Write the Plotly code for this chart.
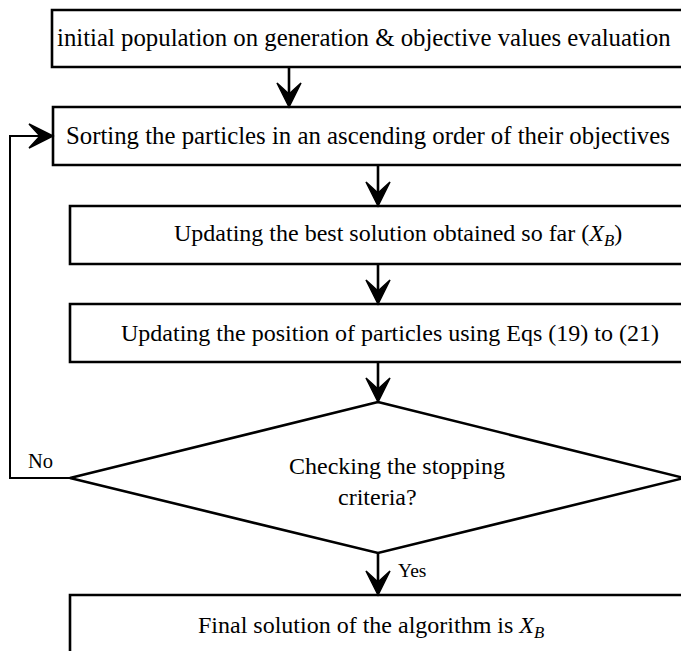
import plotly.graph_objects as go

# ---- content ----
box_labels = [
    "initial population on generation &amp; objective values evaluation",
    "Sorting the particles in an ascending order of their objectives",
    "Updating the best solution obtained so far (<i>X<sub>B</sub></i>)",
    "Updating the position of particles using Eqs (19) to (21)",
]
decision_lines = ["Checking the stopping", "criteria?"]
final_label = "Final solution of the algorithm is <i>X<sub>B</sub></i>"
no_label = "No"
yes_label = "Yes"

# ---- layout geometry (pixel space) ----
W, H = 681, 651
boxes = [  # x0, y0, x1, y1, text cx, text cy, font size
    (52, 10, 692, 67, 364, 37, 24.8),
    (53, 107, 692, 165, 368, 135, 24.8),
    (70, 206, 692, 264, 398, 235, 24),
    (70, 304, 692, 362, 390, 333, 24),
]
diamond = dict(top=(378, 402), left=(70, 478), right=(684, 478), bottom=(378, 553))
final_box = (70, 595, 692, 665, 371, 627)
LW = 2.6
FONT = "Liberation Serif"
FS = 24

fig = go.Figure()
fig.add_trace(go.Scatter(x=[0, W], y=[0, H], mode="markers",
                         marker=dict(opacity=0), hoverinfo="skip", showlegend=False))

shapes = []
annotations = []

def rect(x0, y0, x1, y1):
    shapes.append(dict(type="rect", xref="x", yref="y", x0=x0, y0=y0, x1=x1, y1=y1,
                       line=dict(color="black", width=LW), fillcolor="white", layer="below"))

def line(pts, width=LW):
    path = "M " + " L ".join(f"{x},{y}" for x, y in pts)
    shapes.append(dict(type="path", xref="x", yref="y", path=path,
                       line=dict(color="black", width=width)))

def arrow_head(tip, direction):
    x, y = tip
    L, Wd, N = 24, 12, 13
    if direction == "down":
        pts = [(x, y), (x - Wd, y - L), (x, y - N), (x + Wd, y - L)]
    else:  # right
        pts = [(x, y), (x - L, y - Wd), (x - N, y), (x - L, y + Wd)]
    path = "M " + " L ".join(f"{px},{py}" for px, py in pts) + " Z"
    shapes.append(dict(type="path", xref="x", yref="y", path=path,
                       fillcolor="black", line=dict(color="black", width=1.5)))

def text(t, x, y, size=FS):
    annotations.append(dict(text=t, x=x, y=y, xref="x", yref="y", showarrow=False,
                            xanchor="center", yanchor="middle",
                            font=dict(family=FONT, size=size, color="black")))

for (x0, y0, x1, y1, tx, ty, fs), lab in zip(boxes, box_labels):
    rect(x0, y0, x1, y1)
    text(lab, tx, ty, fs)

# connectors
conn = [(289, 67, 107), (378, 165, 206), (378, 264, 304), (378, 362, 402), (378, 553, 595)]
for x, ya, yb in conn:
    line([(x, ya), (x, yb - 10)])
    arrow_head((x, yb), "down")

# diamond
d = diamond
line([d["top"], d["right"], d["bottom"], d["left"], d["top"]])
text(decision_lines[0], 397, 466)
text(decision_lines[1], 377, 497)

# loop back
line([d["left"], (10, 478), (10, 136), (43, 136)], width=2)
arrow_head((53, 136), "right")
text(no_label, 40, 461, size=20.5)
text(yes_label, 412, 570, size=19.5)

# final
x0, y0, x1, y1, tx, ty = final_box
rect(x0, y0, x1, y1)
text(final_label, tx, ty)

fig.update_layout(
    width=W, height=H, autosize=False,
    margin=dict(l=0, r=0, t=0, b=0),
    paper_bgcolor="white", plot_bgcolor="white",
    xaxis=dict(range=[0, W], visible=False, fixedrange=True),
    yaxis=dict(range=[H, 0], visible=False, fixedrange=True),
    shapes=shapes, annotations=annotations, showlegend=False,
)
fig.write_html("out.html", config={"displayModeBar": False},
               post_script="document.body.style.margin='0';document.body.style.padding='0';")
